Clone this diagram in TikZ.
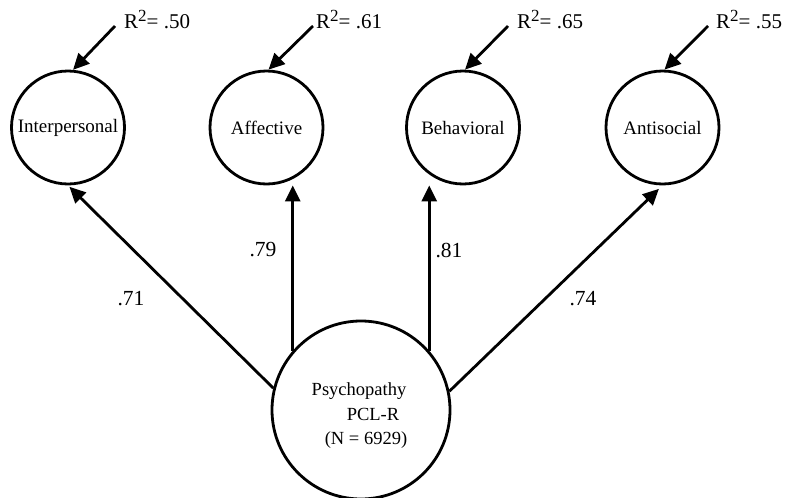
\documentclass[tikz,border=0pt]{standalone}
\usepackage{fontspec}
\setmainfont{Liberation Serif}
\usetikzlibrary{arrows.meta,calc}
\newcommand{\rsq}{R\raisebox{6.5pt}{\fontsize{17}{20}\selectfont 2}}
\begin{document}
\begin{tikzpicture}[x=1pt,y=-1pt,
  latent/.style={circle,draw,line width=2.8pt,minimum size=113pt,inner sep=0pt,
    font=\fontsize{19}{22}\selectfont},
  big/.style={circle,draw,line width=2.8pt,minimum size=178pt,inner sep=0pt},
  arr/.style={line width=2.8pt,-{Triangle[length=16pt,width=15pt]}},
  lab/.style={font=\fontsize{21.5}{24}\selectfont,inner sep=0pt},
  rlab/.style={font=\fontsize{21}{24}\selectfont,inner sep=0pt,anchor=base west},
  ptxt/.style={font=\fontsize{18.5}{22}\selectfont,inner sep=0pt,anchor=base}]
\useasboundingbox (0,0) rectangle (793,498);
\node[latent] (ip) at (68,127.5) {Interpersonal};
\node[latent] (af) at (266.5,127.5) {Affective};
\node[latent] (be) at (463,127.5) {Behavioral};
\node[latent] (as) at (662.5,127.5) {Antisocial};
\node[big] (psy) at (361,410) {};
\node[ptxt] (p1) at (359,395) {Psychopathy};
\node[ptxt] (p2) at (373,420) {PCL-R};
\node[ptxt] (p3) at (366,444) {(N = 6929)};
% R^2 labels
\node[rlab] (r1) at (124,28) {\rsq= .50};
\node[rlab] (r2) at (316,28) {\rsq= .61};
\node[rlab] (r3) at (517,28) {\rsq= .65};
\node[rlab] (r4) at (716,28) {\rsq= .55};
\coordinate (s1) at (115,26);
\coordinate (s2) at (313,26);
\coordinate (s3) at (508,26);
\coordinate (s4) at (708,26);
\draw[arr] (s1) -- (ip.85);
\draw[arr] (s2) -- (af.88);
\draw[arr] (s3) -- (be.88);
\draw[arr] (s4) -- (as.88);
% loadings
\draw[arr,shorten >=2pt] (psy.166) -- (ip.south);
\draw[arr] (psy.139) -- (psy.139 |- af.south);
\draw[arr] (psy.41) -- (psy.41 |- be.south);
\draw[arr,shorten >=5pt] (psy.12) -- (as.south);
\node[lab] (l1) at (131,299) {.71};
\node[lab] (l2) at (263,250) {.79};
\node[lab] (l3) at (449,250) {.81};
\node[lab] (l4) at (583,299) {.74};
\end{tikzpicture}
\end{document}
